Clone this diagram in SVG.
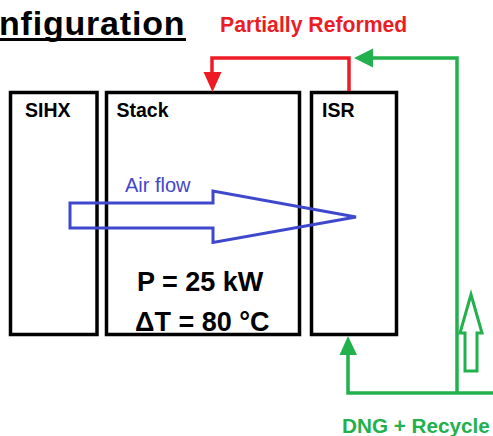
<svg xmlns="http://www.w3.org/2000/svg" width="493" height="436" viewBox="0 0 493 436">
<style>
text{font-family:"Liberation Sans",Arial,sans-serif;}
.box{fill:none;stroke:#000;stroke-width:3.5;}
.lbl{font-weight:bold;font-size:19.5px;fill:#000;}
.big{font-weight:bold;font-size:27px;fill:#000;}
.red{stroke:#ed1c24;stroke-width:3.5;fill:none;}
.grn{stroke:#22b14c;stroke-width:3.5;fill:none;}
</style>
<rect width="493" height="436" fill="#fff"/>
<g id="title">
<text x="-1" y="35" font-size="34" font-weight="bold" letter-spacing="0.8" fill="#000">nfiguration</text>
<line x1="0" y1="39.5" x2="186" y2="39.5" stroke="#000" stroke-width="3"/>
</g>
<g id="node-sihx">
<text class="lbl" x="25" y="117">SIHX</text>
<rect class="box" x="10.5" y="92.5" width="86.5" height="242"/>
</g>
<g id="node-stack">
<text class="lbl" x="116.5" y="117">Stack</text>
<text class="big" x="137" y="291">P = 25 kW</text>
<text class="big" x="135" y="330.5">ΔT = 80 °C</text>
<rect class="box" x="106.5" y="92.5" width="193" height="242"/>
</g>
<g id="node-isr">
<text class="lbl" x="322" y="117">ISR</text>
<rect class="box" x="311.5" y="92.5" width="85" height="242"/>
</g>
<g id="connectors">
<path class="red" d="M349 91 V58 H212 V74"/>
<polygon points="203.5,72 221.5,72 212.5,92" fill="#ed1c24"/>
<path class="grn" d="M373 58 H457 V393 M493 393 H348 V353"/>
<polygon points="354,58 373,48.5 373,67.5" fill="#22b14c"/>
<polygon points="348,336 339.5,355 357,355" fill="#22b14c"/>
<polygon points="465,371 477,371 477,333 482,333 471,294.5 460,333 465,333" fill="none" stroke="#22b14c" stroke-width="3" stroke-linejoin="miter"/>
<polygon points="70,203 213,203 213,191 356,217 213,242.5 213,228 70,228" fill="none" stroke="#3f48cc" stroke-width="3"/>
</g>
<g id="labels">
<text x="220" y="32" font-size="21.2" font-weight="bold" fill="#ed1c24">Partially Reformed</text>
<text x="125" y="192" font-size="20" fill="#3f48cc">Air flow</text>
<text x="342" y="433" font-size="20.7" font-weight="bold" fill="#22b14c">DNG + Recycle</text>
</g>
</svg>
